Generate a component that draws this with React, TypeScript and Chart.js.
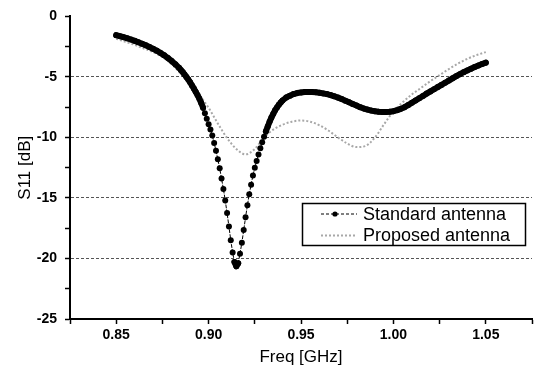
import React, { useEffect, useRef } from 'react';
import { Chart, registerables } from 'chart.js';

Chart.register(...registerables);

// Standard antenna: measured S11 (dB) vs frequency (GHz)
const stdFreq = [
  0.850, 0.852, 0.854, 0.856, 0.858, 0.860, 0.862, 0.864, 0.866, 0.868,
  0.870, 0.872, 0.874, 0.876, 0.878, 0.880, 0.882, 0.884, 0.885, 0.886,
  0.887, 0.888, 0.889, 0.890, 0.891, 0.892, 0.893, 0.894, 0.895, 0.896,
  0.897, 0.898, 0.899, 0.900, 0.901, 0.902, 0.903, 0.904, 0.905, 0.906,
  0.907, 0.908, 0.909, 0.910, 0.911, 0.912, 0.913, 0.914, 0.915, 0.916,
  0.917, 0.918, 0.919, 0.920, 0.921, 0.922, 0.923, 0.924, 0.925, 0.926,
  0.927, 0.928, 0.929, 0.930, 0.931, 0.932, 0.933, 0.934, 0.935, 0.936,
  0.937, 0.938, 0.939, 0.940, 0.942, 0.944, 0.946, 0.948, 0.950, 0.952,
  0.954, 0.956, 0.958, 0.960, 0.962, 0.964, 0.966, 0.968, 0.970, 0.972,
  0.974, 0.976, 0.978, 0.980, 0.982, 0.984, 0.986, 0.988, 0.990, 0.992,
  0.994, 0.996, 0.998, 1.000, 1.002, 1.004, 1.006, 1.008, 1.010, 1.012,
  1.014, 1.016, 1.018, 1.020, 1.022, 1.024, 1.026, 1.028, 1.030, 1.032,
  1.034, 1.036, 1.038, 1.040, 1.042, 1.044, 1.046, 1.048, 1.050,
];
const stdS11 = [
  -1.55, -1.63, -1.72, -1.81, -1.91, -2.02, -2.14, -2.26, -2.39, -2.53,
  -2.68, -2.84, -3.02, -3.22, -3.44, -3.68, -3.95, -4.25, -4.42, -4.6,
  -4.8, -5.0, -5.22, -5.45, -5.7, -5.95, -6.22, -6.5, -6.8, -7.15,
  -7.55, -8.0, -8.45, -8.9, -9.35, -9.85, -10.45, -11.1, -11.8, -12.55,
  -13.4, -14.25, -15.2, -16.25, -17.35, -18.5, -19.5, -20.3, -20.65, -20.4,
  -19.6, -18.7, -17.65, -16.6, -15.6, -14.7, -13.9, -13.15, -12.5, -11.95,
  -11.4, -10.9, -10.4, -9.95, -9.5, -9.1, -8.7, -8.35, -8.05, -7.75,
  -7.52, -7.3, -7.12, -6.95, -6.7, -6.55, -6.42, -6.33, -6.28, -6.25,
  -6.24, -6.25, -6.27, -6.31, -6.36, -6.42, -6.5, -6.6, -6.71, -6.83,
  -6.96, -7.1, -7.24, -7.37, -7.5, -7.61, -7.7, -7.78, -7.84, -7.88,
  -7.9, -7.9, -7.88, -7.83, -7.75, -7.64, -7.5, -7.33, -7.14, -6.95,
  -6.76, -6.57, -6.38, -6.2, -6.02, -5.84, -5.66, -5.48, -5.3, -5.12,
  -4.94, -4.77, -4.61, -4.46, -4.32, -4.18, -4.05, -3.93, -3.82,
];

// Proposed antenna: measured S11 (dB) vs frequency (GHz)
const propFreq = [
  0.850, 0.855, 0.860, 0.865, 0.870, 0.875, 0.880, 0.885, 0.890, 0.895,
  0.900, 0.905, 0.910, 0.915, 0.920, 0.925, 0.930, 0.935, 0.940, 0.945,
  0.950, 0.955, 0.960, 0.965, 0.970, 0.975, 0.980, 0.985, 0.990, 0.995,
  1.000, 1.005, 1.010, 1.015, 1.020, 1.025, 1.030, 1.035, 1.040, 1.045,
  1.050,
];
const propS11 = [
  -1.85, -2.1, -2.35, -2.65, -2.95, -3.35, -3.95, -4.75, -5.65, -6.5,
  -7.55, -8.85, -10.05, -10.95, -11.4, -10.95, -10.0, -9.35, -8.95, -8.7,
  -8.6, -8.7, -9.0, -9.45, -10.0, -10.5, -10.8, -10.7, -10.0, -8.9,
  -7.85, -7.1, -6.45, -5.9, -5.35, -4.85, -4.35, -3.9, -3.5, -3.2,
  -2.95,
];

// Labelled tick values; the other ticks are unlabelled minor marks
const xLabelTicks = [0.85, 0.9, 0.95, 1.0, 1.05];
const yLabelTicks = [0, -5, -10, -15, -20, -25];
const yGridValues = [-5, -10, -15, -20];

const SANS = '"Liberation Sans", Arial, sans-serif';

const near = (list: number[], v: number) => list.some((t) => Math.abs(t - v) < 1e-6);

// Where the markers crowd together they merge into one heavy stroke
const segLen = (c: any) => Math.hypot(c.p1.x - c.p0.x, c.p1.y - c.p0.y);
const crowded = (c: any) => segLen(c) < 5.5;

// Boxed legend drawn inside the plot area, lower right
const boxLegend = {
  id: 'boxLegend',
  afterDatasetsDraw(chart: any) {
    const { ctx } = chart;
    const sets = chart.data.datasets;
    const bx = 302.5, by = 203.5, bw = 223, bh = 42;
    ctx.save();
    ctx.fillStyle = '#fff';
    ctx.fillRect(bx, by, bw, bh);
    ctx.strokeStyle = '#000';
    ctx.lineWidth = 1.5;
    ctx.strokeRect(bx, by, bw, bh);

    const rows = [214, 235.5];
    rows.forEach((ry, i) => {
      const ds = sets[i];
      ctx.save();
      ctx.strokeStyle = ds.borderColor;
      ctx.lineWidth = i === 0 ? 1 : 2;
      ctx.setLineDash(ds.borderDash || []);
      ctx.beginPath();
      ctx.moveTo(321, ry);
      ctx.lineTo(357, ry);
      ctx.stroke();
      ctx.restore();
      if (i === 0) {
        ctx.fillStyle = '#000';
        ctx.beginPath();
        ctx.arc(335, ry, 2.6, 0, Math.PI * 2);
        ctx.fill();
      }
      ctx.fillStyle = '#000';
      ctx.font = `18px ${SANS}`;
      ctx.textBaseline = 'middle';
      ctx.textAlign = 'left';
      ctx.fillText(ds.label, 363, ry + 1);
    });
    ctx.restore();
  },
};

export default function App() {
  const canvasRef = useRef<HTMLCanvasElement>(null);

  useEffect(() => {
    const canvas = canvasRef.current;
    if (!canvas) return;
    const chart = new Chart(canvas, {
      type: 'scatter',
      data: {
        datasets: [
          {
            label: 'Standard antenna',
            data: stdFreq.map((f, i) => ({ x: f, y: stdS11[i] })),
            showLine: true,
            borderColor: '#000',
            borderWidth: 1,
            borderDash: [3, 2],
            borderCapStyle: 'round',
            borderJoinStyle: 'round',
            segment: {
              borderWidth: (c: any) => (crowded(c) ? 6 : 1),
              borderDash: (c: any) => (crowded(c) ? [] : [3, 2]),
            },
            pointRadius: 3,
            pointBackgroundColor: '#000',
            pointBorderWidth: 0,
            order: 0,
          },
          {
            label: 'Proposed antenna',
            data: propFreq.map((f, i) => ({ x: f, y: propS11[i] })),
            showLine: true,
            borderColor: '#a8a8a8',
            borderWidth: 2,
            borderDash: [2, 2],
            pointRadius: 0,
            cubicInterpolationMode: 'monotone',
            order: 1,
          },
        ],
      },
      options: {
        animation: false,
        responsive: false,
        layout: { padding: { top: 10, right: 5, left: 0, bottom: 0 } },
        plugins: {
          legend: { display: false },
          tooltip: { enabled: false },
        },
        scales: {
          x: {
            type: 'linear',
            min: 0.825,
            max: 1.075,
            ticks: {
              stepSize: 0.025,
              autoSkip: false,
              maxRotation: 0,
              padding: 3,
              color: '#000',
              font: { family: SANS, size: 14, weight: 'bold' },
              callback: (v: any) => (near(xLabelTicks, Number(v)) ? Number(v).toFixed(2) : ''),
            },
            grid: {
              drawOnChartArea: false,
              tickLength: 5,
              tickColor: '#000',
              tickWidth: 1.5,
            },
            border: { color: '#000', width: 2 },
            title: {
              display: true,
              text: 'Freq [GHz]',
              color: '#000',
              font: { family: SANS, size: 17 },
              padding: { top: 0, bottom: 5 },
            },
            afterFit: (s: any) => {
              s.height = 54;
            },
          },
          y: {
            type: 'linear',
            min: -25,
            max: 0,
            ticks: {
              stepSize: 2.5,
              autoSkip: false,
              padding: 8,
              color: '#000',
              font: { family: SANS, size: 14, weight: 'bold' },
              callback: (v: any) => (near(yLabelTicks, Number(v)) ? String(Number(v)) : ''),
            },
            grid: {
              drawOnChartArea: true,
              color: (c: any) => (c.tick && near(yGridValues, c.tick.value) ? '#555' : 'rgba(0,0,0,0)'),
              lineWidth: 1,
              tickLength: 5,
              tickColor: '#000',
              tickWidth: 1.5,
            },
            border: { color: '#000', width: 2, dash: [3, 2] },
            title: {
              display: true,
              text: 'S11 [dB]',
              color: '#000',
              font: { family: SANS, size: 17 },
              padding: { top: 15, bottom: 0 },
            },
            afterFit: (s: any) => {
              s.width = 70;
            },
          },
        },
      },
      plugins: [boxLegend],
    } as any);
    return () => chart.destroy();
  }, []);

  return (
    <div style={{ position: 'absolute', left: 0, top: 0, width: 537, height: 373, background: '#fff' }}>
      <canvas ref={canvasRef} width={537} height={373} style={{ display: 'block' }} />
    </div>
  );
}
